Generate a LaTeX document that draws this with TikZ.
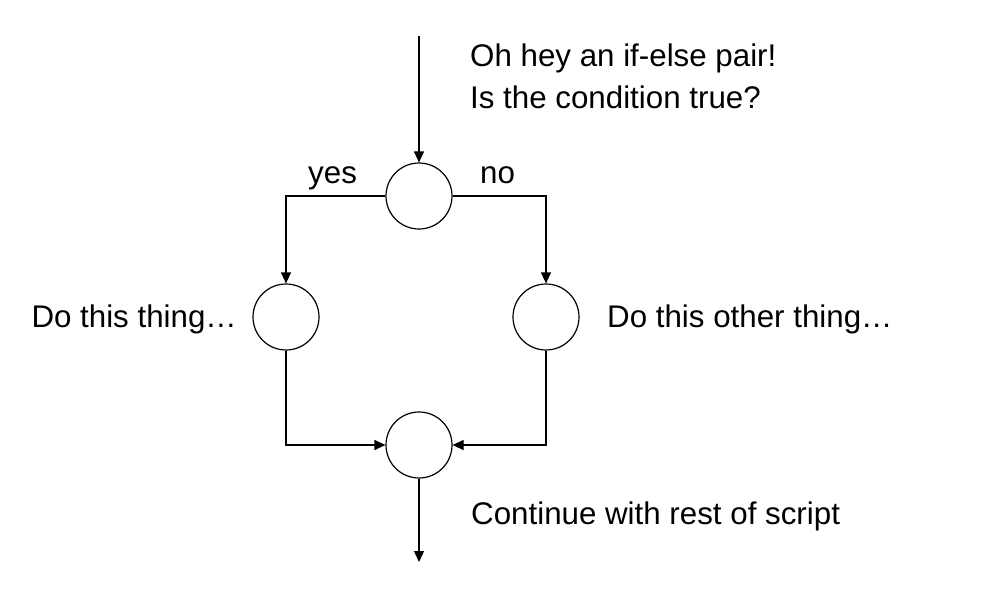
\documentclass[tikz,border=0pt]{standalone}
\usepackage{fontspec}
\setmainfont{Liberation Sans}
\usetikzlibrary{arrows.meta}
\begin{document}
\begin{tikzpicture}[x=1pt,y=-1pt,
  junction/.style={circle,draw,line width=1.2pt,minimum size=66pt,inner sep=0pt},
  lbl/.style={inner sep=0pt,font=\fontsize{31.3}{37}\selectfont},
  conn/.style={line width=1.2pt,-{Triangle[length=11pt,width=10pt]}}]
\useasboundingbox (0,0) rectangle (1000,600);
\node[junction] (c1) at (419,196) {};
\node[junction] (c2) at (286,317) {};
\node[junction] (c3) at (546,317) {};
\node[junction] (c4) at (419,445) {};
\coordinate (start) at (419,36);
\coordinate (end) at (419,562);
\draw[conn] (start) -- (c1.north);
\draw[conn] (c1.west) -| (c2.north);
\draw[conn] (c1.east) -| (c3.north);
\draw[conn] (c2.south) |- (c4.west);
\draw[conn] (c3.south) |- (c4.east);
\draw[conn] (c4.south) -- (end);
\node[lbl,anchor=base west] (t1) at (470,66) {Oh hey an if-else pair!};
\node[lbl,anchor=base west] (t2) at (470,108) {Is the condition true?};
\node[lbl,anchor=base west] (yes) at (308,183) {yes};
\node[lbl,anchor=base west] (no) at (480,183) {no};
\node[lbl,anchor=base east] (left) at (237,327) {Do this thing…};
\node[lbl,anchor=base west] (right) at (607,327) {Do this other thing…};
\node[lbl,anchor=base west] (cont) at (471,524) {Continue with rest of script};
\end{tikzpicture}
\end{document}
